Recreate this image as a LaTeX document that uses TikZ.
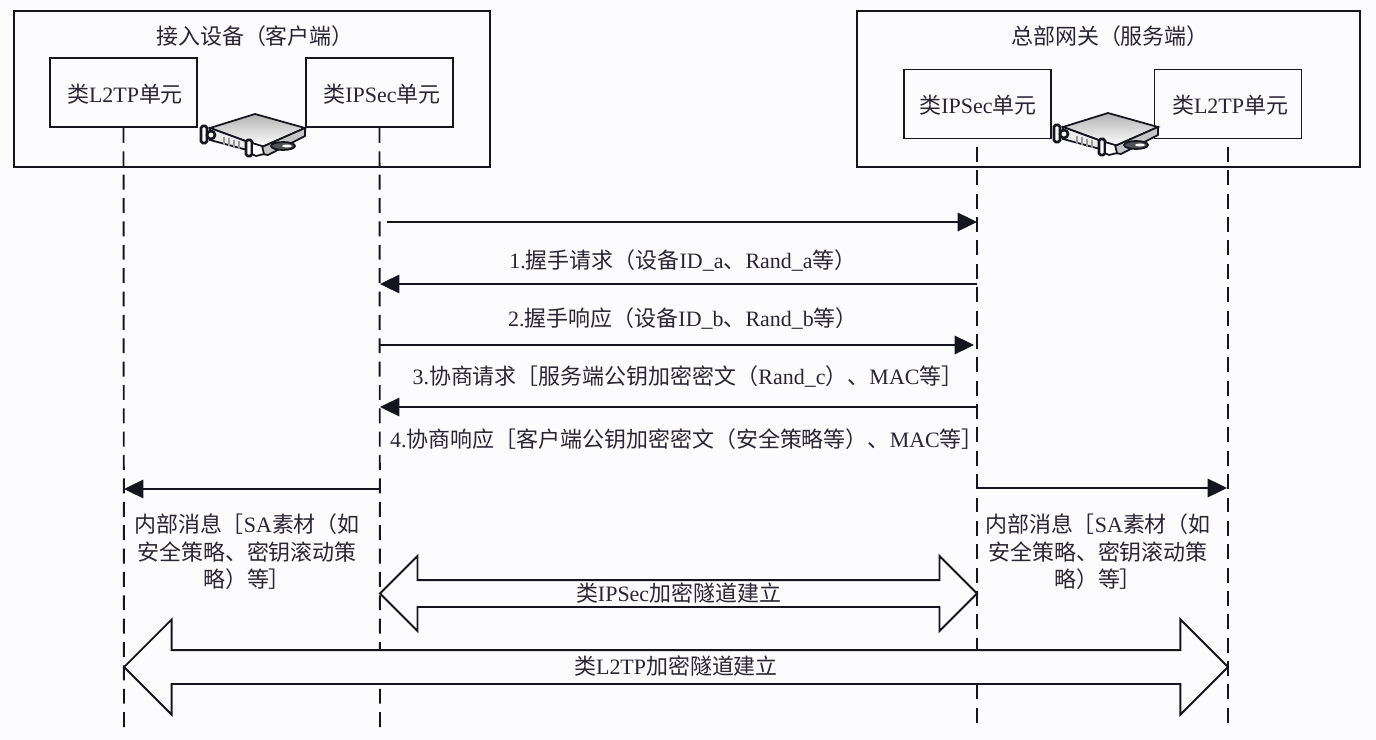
\documentclass[tikz,border=0pt]{standalone}
\usepackage{fontspec}
\setmainfont{Noto Sans CJK SC}
\newfontfamily\latf{Liberation Serif}
\newcommand{\lat}[1]{{\latf #1}}
\usepackage{xcolor}
\usetikzlibrary{arrows.meta,shapes.arrows}
\definecolor{inkline}{HTML}{15151F}
\definecolor{inktext}{HTML}{2A2433}
\definecolor{paper}{HTML}{FCFCFE}
\tikzset{
  router/.pic={
    % body
    \draw[line width=1pt,draw=inkline,top color=gray!60,bottom color=white] (20,23) -- (65,9) -- (115,23) -- (72,42) -- cycle;
    \draw[line width=1pt,draw=inkline,fill=gray!15] (20,23) -- (72,42) -- (72,49) -- (20,35) -- cycle;
    \draw[line width=1pt,draw=inkline,fill=gray!45] (72,42) -- (115,23) -- (115,31) -- (78,50) -- (72,49) -- cycle;
    % slots
    \draw[line width=1pt,gray!80] (34,32) -- (34,40) (39,33) -- (39,41) (44,35) -- (44,43) (49,36) -- (49,44);
    % ears
    \draw[line width=1.5pt,draw=inkline,fill=white,rounded corners=1pt] (11,21) -- (17,21) -- (17,38) -- (11,38) -- cycle;
    \draw[line width=1.5pt,draw=inkline,fill=white,rounded corners=1pt] (56,35) -- (62,35) -- (62,51) -- (56,51) -- cycle;
    \draw[line width=1.5pt,draw=inkline,fill=white] (21,30) circle (4);
    \draw[line width=1pt,draw=inkline,fill=white] (62,38) -- (72,41) -- (74,49) -- (66,51) -- (62,49) -- cycle;
    \draw[line width=1pt,draw=inkline,fill=inkline!75] (93,41) ellipse (12 and 4);
    \fill[white] (97,41) ellipse (5 and 1.5);
  }
}
\begin{document}
\begin{tikzpicture}[x=0.02cm,y=-0.02cm,>={Triangle[length=11pt,width=10.5pt]},
    line width=1.1pt,draw=inkline,text=inktext,
    font=\fontsize{12.5}{15.6}\selectfont,
    group box/.style={draw,inner sep=0pt,minimum height=3.12cm},
    unit box/.style={draw,fill=paper,inner sep=0pt,minimum width=2.94cm,minimum height=1.38cm},
    lifeline/.style={draw,dash pattern=on 8.5pt off 4.8pt},
    message/.style={draw,->},
    label/.style={inner sep=0pt,align=center},
    tunnel/.style={draw,fill=paper,shape=double arrow,inner sep=0pt,double arrow head indent=0pt}]
    \fill[paper] (0,0) rectangle (1376,740);
    \useasboundingbox (0,0) rectangle (1376,740);
  % Nodes
    % client
    \node (clientbox) at (252,89) [group box,minimum width=9.52cm] {};
    \node (clienttitle) at (255,36) [label] {接入设备（客户端）};
    \node (clientlt) at (123.5,92.5) [unit box] {};
    \node (clientip) at (379.5,92.5) [unit box] {};
    \node (clientlttext) at (125,94) [label] {类\lat{L2TP}单元};
    \node (clientiptext) at (382,94) [label] {类\lat{IPSec}单元};

    % server
    \node (serverbox) at (1108.5,89) [group box,minimum width=10.06cm] {};
    \node (servertitle) at (1110,36) [label] {总部网关（服务端）};
    \node (serverip) at (977.5,104) [unit box] {};
    \node (serverlt) at (1228,104) [unit box] {};
    \node (serveriptext) at (978,105) [label] {类\lat{IPSec}单元};
    \node (serverlttext) at (1230,105) [label] {类\lat{L2TP}单元};

    \pic at (190,105) {router};
    \pic at (1043,104) {router};

    % lifeline ends
    \coordinate (clientltend) at (124,728);
    \coordinate (clientipend) at (380,728);
    \coordinate (serveripstart) at (977,147);
    \coordinate (serverltstart) at (1228,147);
    \coordinate (serveripend) at (977,728);
    \coordinate (serverltend) at (1228,728);

    % message ends
    \coordinate (m0a) at (387,222);   \coordinate (m0b) at (977,222);
    \coordinate (m1a) at (977,284);   \coordinate (m1b) at (380,284);
    \coordinate (m2a) at (380,345);   \coordinate (m2b) at (974,345);
    \coordinate (m3a) at (977,407);   \coordinate (m3b) at (380,407);
    \coordinate (m4a) at (380,489);   \coordinate (m4b) at (124,489);
    \coordinate (m5a) at (977,488);   \coordinate (m5b) at (1227,488);

  % Edges
    \draw[lifeline] (clientlt.south) -- (clientltend);
    \draw[lifeline] (clientip.south) -- (clientipend);
    \draw[lifeline] (serveripstart) -- (serveripend);
    \draw[lifeline] (serverltstart) -- (serverltend);

    \draw[message] (m0a) -- (m0b);
    \draw[message] (m1a) -- (m1b);
    \draw[message] (m2a) -- (m2b);
    \draw[message] (m3a) -- (m3b);
    \draw[message] (m4a) -- (m4b);
    \draw[message] (m5a) -- (m5b);

  % Labels
    \node (msg1) at (683,261) [label] {\lat{1.}握手请求（设备\lat{ID\_a}、\lat{Rand\_a}等）};
    \node (msg2) at (683,319) [label] {\lat{2.}握手响应（设备\lat{ID\_b}、\lat{Rand\_b}等）};
    \node (msg3) at (688,377) [label] {\lat{3.}协商请求［服务端公钥加密密文（\lat{Rand\_c}）、\lat{MAC}等］};
    \node (msg4) at (687,439) [label] {\lat{4.}协商响应［客户端公钥加密密文（安全策略等）、\lat{MAC}等］};
    \node (inner1) at (247,552) [label] {内部消息［\lat{SA}素材（如\\安全策略、密钥滚动策\\略）等］};
    \node (inner2) at (1098,552) [label] {内部消息［\lat{SA}素材（如\\安全策略、密钥滚动策\\略）等］};

  % Tunnels
    \node (iptunnel) at (678.5,593.5) [tunnel,minimum height=11.94cm,text height=.40cm,text depth=.10cm,double arrow head extend=.48cm] {类\lat{IPSec}加密隧道建立};
    \node (lttunnel) at (676,667) [tunnel,minimum height=22.08cm,text height=.47cm,text depth=.17cm,double arrow head extend=.61cm] {类\lat{L2TP}加密隧道建立};
\end{tikzpicture}
\end{document}
